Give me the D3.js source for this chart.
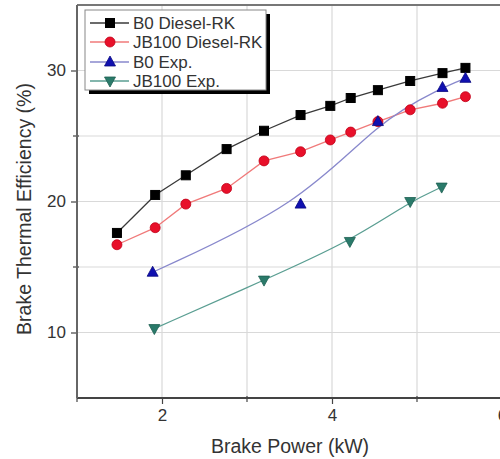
<!DOCTYPE html>
<html><head><meta charset="utf-8">
<script src="https://cdn.jsdelivr.net/npm/d3@7"></script>
<style>body{margin:0;background:#fff}svg{display:block}</style>
</head><body>
<svg id="c" width="500" height="459"></svg>
<script>
// Data
const b0RkX   = [1.47, 1.92, 2.28, 2.76, 3.20, 3.63, 3.98, 4.22, 4.54, 4.92, 5.30, 5.57];
const b0RkY   = [17.6, 20.5, 22.0, 24.0, 25.4, 26.6, 27.3, 27.9, 28.5, 29.2, 29.8, 30.2];
const jbRkX   = [1.47, 1.92, 2.28, 2.76, 3.20, 3.63, 3.98, 4.22, 4.54, 4.92, 5.30, 5.57];
const jbRkY   = [16.7, 18.0, 19.8, 21.0, 23.1, 23.8, 24.7, 25.3, 26.1, 27.0, 27.5, 28.0];
const b0ExpX  = [1.89, 3.63, 4.54, 5.30, 5.57];
const b0ExpY  = [14.6, 19.8, 26.1, 28.7, 29.4];
const jbExpX  = [1.91, 3.20, 4.21, 4.92, 5.29];
const jbExpY  = [10.3, 14.0, 16.95, 20.0, 21.1];
const seriesNames = ["B0 Diesel-RK", "JB100 Diesel-RK", "B0 Exp.", "JB100 Exp."];
const xTickVals = [2, 4, 6];
const xMinorVals = [1, 3, 5];
const yTickVals = [10, 20, 30];
const yMinorVals = [15, 25];
const xTitle = "Brake Power (kW)";
const yTitle = "Brake Thermal Efficiency (%)";

const svg = d3.select("#c");
const L = 77, T = 5, B = 398;
const x = d3.scaleLinear().domain([1, 6.5]).range([L, L + 5.5 * 85]);
const y = d3.scaleLinear().domain([5, 35]).range([B, T]);

// gridlines
const g = svg.append("g");
g.selectAll("line.gx").data([2,3,4,5,6]).join("line")
  .attr("x1", d => x(d)).attr("x2", d => x(d)).attr("y1", T).attr("y2", B)
  .attr("stroke", "#d9d9d9").attr("stroke-width", 1.2);
g.selectAll("line.gy").data([10,15,20,25,30]).join("line")
  .attr("y1", d => y(d)).attr("y2", d => y(d)).attr("x1", L).attr("x2", 500)
  .attr("stroke", "#d9d9d9").attr("stroke-width", 1.2);

// frame top
svg.append("line").attr("x1", L).attr("x2", 500).attr("y1", T).attr("y2", T)
  .attr("stroke", "#777").attr("stroke-width", 2);

// axes
const xAxis = d3.axisBottom(x).tickValues(xTickVals).tickSize(6).tickPadding(5).tickFormat(d3.format("d"));
const xAx = svg.append("g").attr("transform", `translate(0,${B})`).call(xAxis);
const yAxis = d3.axisLeft(y).tickValues(yTickVals).tickSize(6).tickPadding(5).tickFormat(d3.format("d"));
const yAx = svg.append("g").attr("transform", `translate(${L},0)`).call(yAxis);
[xAx, yAx].forEach(a => {
  a.select(".domain").remove();
  a.selectAll(".tick line").attr("stroke", "#444").attr("stroke-width", 1.2);
  a.selectAll(".tick text").attr("font-family", "Liberation Sans, Arial, sans-serif")
    .attr("font-size", 17).attr("fill", "#333");
});
// minor ticks
svg.selectAll("line.mx").data(xMinorVals).join("line")
  .attr("x1", d => x(d)).attr("x2", d => x(d)).attr("y1", B - 2).attr("y2", B + 4)
  .attr("stroke", "#444").attr("stroke-width", 1.2);
svg.selectAll("line.my").data(yMinorVals).join("line")
  .attr("y1", d => y(d)).attr("y2", d => y(d)).attr("x1", L - 4).attr("x2", L + 2)
  .attr("stroke", "#444").attr("stroke-width", 1.2);
// axis lines
svg.append("line").attr("x1", L).attr("x2", 500).attr("y1", B).attr("y2", B)
  .attr("stroke", "#444").attr("stroke-width", 2);
svg.append("line").attr("x1", L).attr("x2", L).attr("y1", T).attr("y2", B)
  .attr("stroke", "#666").attr("stroke-width", 2);

// titles
svg.append("text").attr("x", 290).attr("y", 453).attr("text-anchor", "middle")
  .attr("font-family", "Liberation Sans, Arial, sans-serif").attr("font-size", 19.5)
  .attr("fill", "#333").text(xTitle);
svg.append("text").attr("transform", "translate(31,209) rotate(-90)").attr("text-anchor", "middle")
  .attr("font-family", "Liberation Sans, Arial, sans-serif").attr("font-size", 19.5)
  .attr("fill", "#333").text(yTitle);

// series
const series = [
  {name: seriesNames[0], xs: b0RkX, ys: b0RkY, line: "#3a3a3a", fill: "#000", stroke: "#000", shape: "square", curve: d3.curveLinear},
  {name: seriesNames[1], xs: jbRkX, ys: jbRkY, line: "#f07a7a", fill: "#e8102a", stroke: "#c00018", shape: "circle", curve: d3.curveLinear},
  {name: seriesNames[2], xs: b0ExpX, ys: b0ExpY, line: "#8888cc", fill: "#1010b0", stroke: "#0a0a80", shape: "tri", curve: d3.curveBasis},
  {name: seriesNames[3], xs: jbExpX, ys: jbExpY, line: "#5a9e92", fill: "#2a7a6a", stroke: "#1d5f52", shape: "tridown", curve: d3.curveBasis}
];

function marker(sel, s, cx, cy) {
  if (s.shape === "square") {
    sel.append("rect").attr("x", cx - 4.5).attr("y", cy - 4.5).attr("width", 9).attr("height", 9)
      .attr("fill", s.fill).attr("stroke", s.stroke);
  } else if (s.shape === "circle") {
    sel.append("circle").attr("cx", cx).attr("cy", cy).attr("r", 5).attr("fill", s.fill).attr("stroke", s.stroke).attr("stroke-width", 0.8);
  } else if (s.shape === "tri") {
    sel.append("path").attr("d", `M${cx},${cy-6}L${cx+5.5},${cy+4}L${cx-5.5},${cy+4}Z`).attr("fill", s.fill).attr("stroke", s.stroke).attr("stroke-width", 0.8);
  } else {
    sel.append("path").attr("d", `M${cx},${cy+6}L${cx+5.5},${cy-4}L${cx-5.5},${cy-4}Z`).attr("fill", s.fill).attr("stroke", s.stroke).attr("stroke-width", 0.8);
  }
}

series.forEach(s => {
  const pts = s.xs.map((v, i) => [v, s.ys[i]]);
  svg.append("path").datum(pts)
    .attr("d", d3.line().x(d => x(d[0])).y(d => y(d[1])).curve(s.curve))
    .attr("fill", "none").attr("stroke", s.line).attr("stroke-width", 1.3);
});
series.forEach(s => {
  const gg = svg.append("g");
  s.xs.forEach((v, i) => marker(gg, s, x(v), y(s.ys[i])));
});

// legend
const lg = svg.append("g");
lg.append("rect").attr("x", 89).attr("y", 14).attr("width", 181).attr("height", 80).attr("fill", "#000");
lg.append("rect").attr("x", 85).attr("y", 10).attr("width", 181).attr("height", 80)
  .attr("fill", "#fff").attr("stroke", "#888").attr("stroke-width", 1);
const rowY = [23, 42, 62, 81];
series.forEach((s, i) => {
  const yy = rowY[i];
  lg.append("line").attr("x1", 90).attr("x2", 129).attr("y1", yy).attr("y2", yy)
    .attr("stroke", s.line).attr("stroke-width", 1.3);
  marker(lg, s, 110, yy);
  lg.append("text").attr("x", 133).attr("y", yy + 6).attr("font-family", "Liberation Sans, Arial, sans-serif")
    .attr("font-size", 17).attr("fill", "#333").text(s.name);
});
</script>
</body></html>
